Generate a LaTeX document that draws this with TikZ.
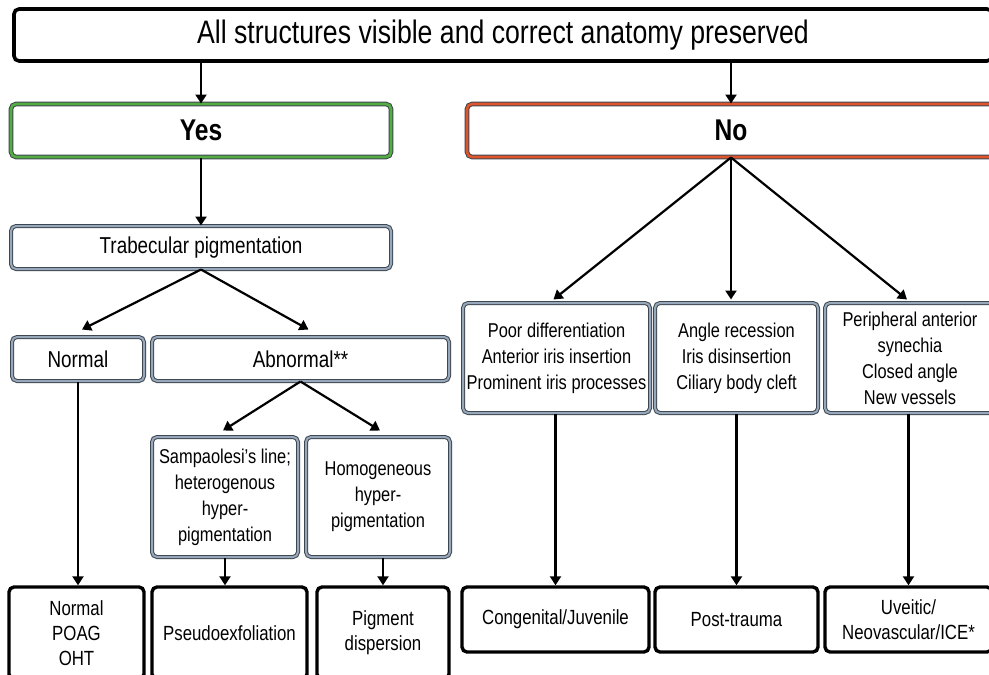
\documentclass[tikz,border=0pt]{standalone}
\usepackage{fontspec}
\setmainfont{Liberation Sans}[FakeStretch=0.82]
\usetikzlibrary{arrows.meta}
\definecolor{framegray}{RGB}{62,70,80}
\definecolor{fillgray}{RGB}{150,168,186}
\definecolor{yesgreen}{RGB}{84,172,66}
\definecolor{nored}{RGB}{224,84,44}
\tikzstyle{block} = [rectangle, rounded corners=5pt, align=center, inner sep=0pt]
\tikzstyle{question} = [block, draw=black, line width=3.6pt, font=\fontsize{32.5}{38}\selectfont]
\tikzstyle{answer} = [block, draw=framegray, line width=1pt, double distance=2.6pt, font=\bfseries\fontsize{30}{36}\selectfont]
\tikzstyle{yesbox} = [answer, double=yesgreen]
\tikzstyle{nobox} = [answer, double=nored]
\tikzstyle{finding} = [block, draw=framegray, line width=1pt, double=fillgray, double distance=2pt, font=\fontsize{20}{26}\selectfont]
\tikzstyle{criterion} = [finding, font=\fontsize{23}{28}\selectfont]
\tikzstyle{diagnosis} = [block, draw=black, line width=3.4pt, font=\fontsize{20.5}{25}\selectfont]
\tikzstyle{flow} = [-{Triangle[width=11pt, length=9pt]}, line width=2.2pt]

\begin{document}
\begin{tikzpicture}[x=1pt, y=-1pt]
    \useasboundingbox (0,0) rectangle (989,675);
    \fill [white] (0,0) rectangle (989,675);
    \clip (0,0) rectangle (989,675);

    % Question and answers.
    \node (top) [question, minimum width=978pt, minimum height=52pt] at (503,35) {All structures visible and correct anatomy preserved};
    \node (yes) [yesbox, minimum width=380pt, minimum height=53pt] at (201,130.5) {Yes};
    \node (no) [nobox, minimum width=528pt, minimum height=53pt] at (731,130.5) {No};

    % Left branch.
    \node (trab) [criterion, minimum width=380pt, minimum height=43pt] at (201,247.5) {Trabecular pigmentation};
    \node (normal) [criterion, minimum width=132pt, minimum height=44pt] at (78,359) {Normal};
    \node (abnormal) [criterion, minimum width=297pt, minimum height=44pt] at (300.5,359) {Abnormal**};
    \node (samp) [finding, minimum width=146pt, minimum height=120pt] at (225,497) {Sampaolesi’s line;\\heterogenous\\hyper-\\pigmentation};
    \node (homo) [finding, minimum width=144pt, minimum height=120pt] at (378,497) {Homogeneous\\hyper-\\pigmentation};

    % Right branch.
    \node (poor) [finding, minimum width=187pt, minimum height=110pt] at (556.5,358) {Poor differentiation\\Anterior iris insertion\\Prominent iris processes};
    \node (angle) [finding, minimum width=163pt, minimum height=110pt] at (736.5,358) {Angle recession\\Iris disinsertion\\Ciliary body cleft};
    \node (peri) [finding, minimum width=170pt, minimum height=110pt] at (910,358) {Peripheral anterior\\synechia\\Closed angle\\New vessels};

    % Diagnoses.
    \node (diag1) [diagnosis, minimum width=135pt, minimum height=92pt] at (76.5,633) {Normal\\POAG\\OHT};
    \node (diag2) [diagnosis, minimum width=155pt, minimum height=92pt] at (229.5,633) {Pseudoexfoliation};
    \node (diag3) [diagnosis, minimum width=132pt, minimum height=92pt] at (383,633) {Pigment\\dispersion};
    \node (diag4) [diagnosis, minimum width=187pt, minimum height=65pt] at (555.5,619.5) {Congenital/Juvenile};
    \node (diag5) [diagnosis, minimum width=163pt, minimum height=65pt] at (736.5,619.5) {Post-trauma};
    \node (diag6) [diagnosis, minimum width=167pt, minimum height=65pt] at (908.5,619.5) {Uveitic/\\Neovascular/ICE*};

    % Arrows.
    \draw [flow] (top.south -| yes.north) -- (yes.north);
    \draw [flow] (top.south -| no.north) -- (no.north);
    \draw [flow] (yes.south) -- (trab.north);
    \draw [flow] (trab.south) -- ([xshift=4pt, yshift=7pt]normal.north);
    \draw [flow] (trab.south) -- ([xshift=8pt, yshift=7pt]abnormal.north);
    \draw [flow] (abnormal.south) -- ([xshift=-2pt, yshift=6pt]samp.north);
    \draw [flow] (abnormal.south) -- ([xshift=2pt, yshift=6pt]homo.north);
    \draw [flow] (normal.south) -- (normal.south |- diag1.north);
    \draw [flow] (samp.south) -- (samp.south |- diag2.north);
    \draw [flow] (diag3.north |- homo.south) -- (diag3.north);

    \draw [flow] (no.south) -- ([xshift=-3pt, yshift=3pt]poor.north);
    \draw [flow] (no.south) -- ([yshift=3pt]no.south |- angle.north);
    \draw [flow] (no.south) -- ([xshift=-3pt, yshift=3pt]peri.north);
    \foreach \i/\j in {poor/diag4, angle/diag5, peri/diag6} {
        \draw [flow] (\j.north |- \i.south) -- (\j.north);
    }
\end{tikzpicture}
\end{document}
